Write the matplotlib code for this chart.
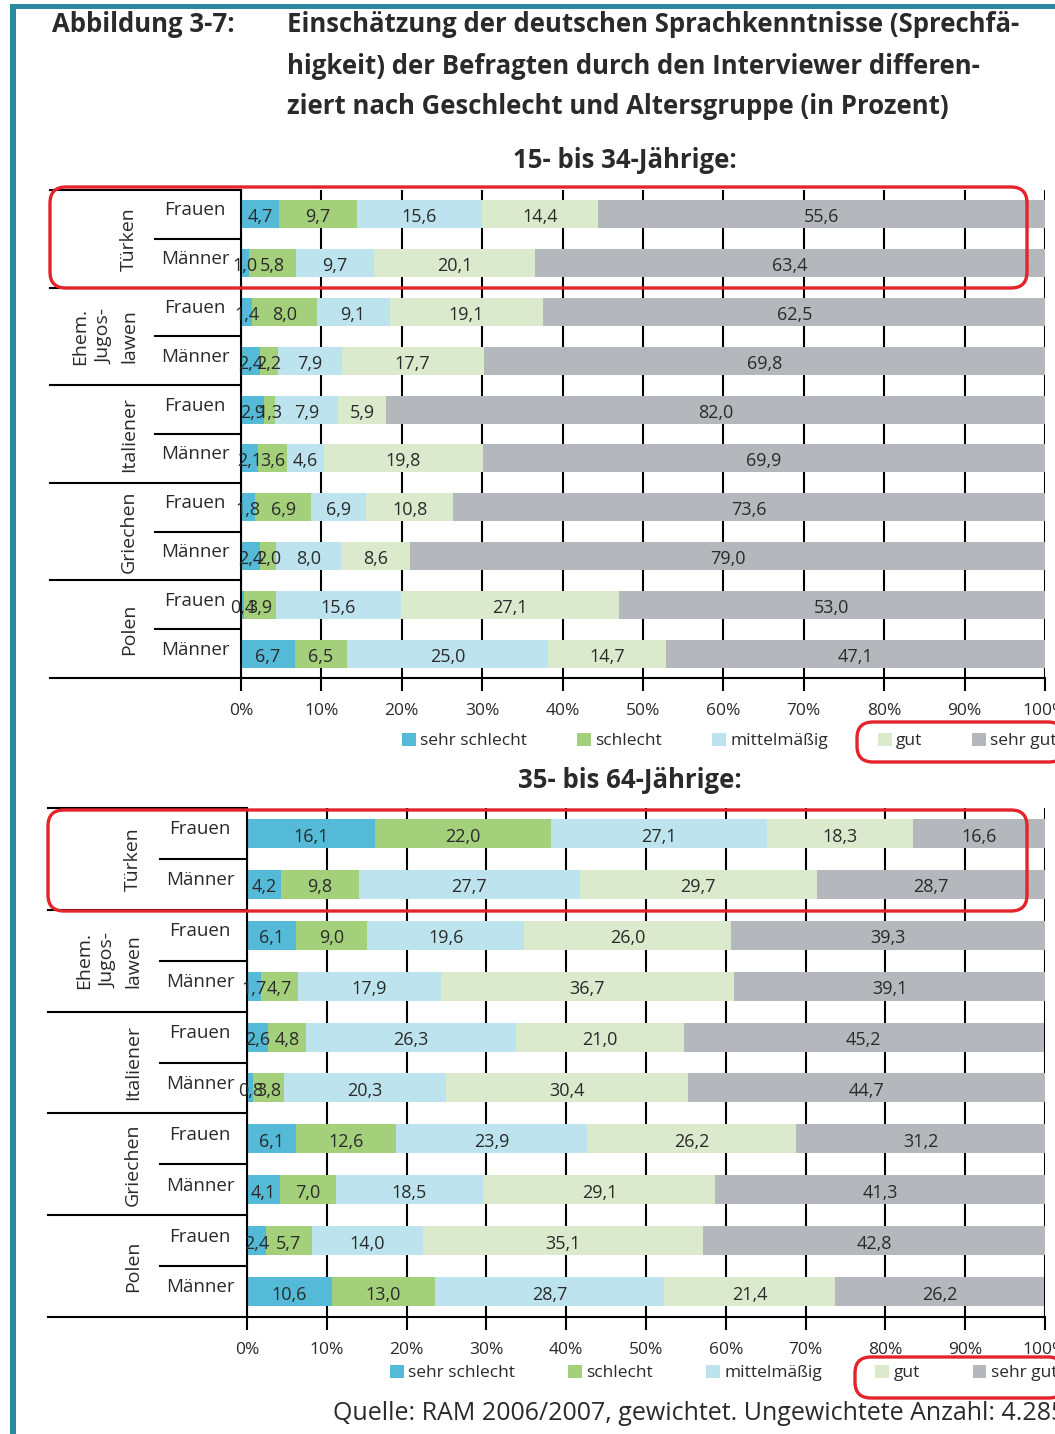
import numpy as np
import matplotlib.pyplot as plt
from matplotlib.patches import FancyBboxPatch, Rectangle
from matplotlib.transforms import IdentityTransform, blended_transform_factory

W, H = 1055, 1434

categories = ['sehr schlecht', 'schlecht', 'mittelmäßig', 'gut', 'sehr gut']
colors = ['#54bad8', '#a4d07c', '#bde4ee', '#dbeacc', '#b4b7bb']
groups = ['Türken', 'Ehem.\nJugos-\nlawen', 'Italiener', 'Griechen', 'Polen']
sexes = ['Frauen', 'Männer']

# 15- bis 34-Jährige (rows: Türken F/M, Jugoslawen F/M, Italiener F/M, Griechen F/M, Polen F/M)
young_sehr_schlecht = [4.7, 1.0, 1.4, 2.4, 2.9, 2.1, 1.8, 2.4, 0.4, 6.7]
young_schlecht = [9.7, 5.8, 8.0, 2.2, 1.3, 3.6, 6.9, 2.0, 3.9, 6.5]
young_mittel = [15.6, 9.7, 9.1, 7.9, 7.9, 4.6, 6.9, 8.0, 15.6, 25.0]
young_gut = [14.4, 20.1, 19.1, 17.7, 5.9, 19.8, 10.8, 8.6, 27.1, 14.7]
young_sehr_gut = [55.6, 63.4, 62.5, 69.8, 82.0, 69.9, 73.6, 79.0, 53.0, 47.1]

# 35- bis 64-Jährige
old_sehr_schlecht = [16.1, 4.2, 6.1, 1.7, 2.6, 0.8, 6.1, 4.1, 2.4, 10.6]
old_schlecht = [22.0, 9.8, 9.0, 4.7, 4.8, 3.8, 12.6, 7.0, 5.7, 13.0]
old_mittel = [27.1, 27.7, 19.6, 17.9, 26.3, 20.3, 23.9, 18.5, 14.0, 28.7]
old_gut = [18.3, 29.7, 26.0, 36.7, 21.0, 30.4, 26.2, 29.1, 35.1, 21.4]
old_sehr_gut = [16.6, 28.7, 39.3, 39.1, 45.2, 44.7, 31.2, 41.3, 42.8, 26.2]

plt.rcParams['font.family'] = ['Open Sans', 'DejaVu Sans']
TXT = '#2a2a2a'

fig = plt.figure(figsize=(W / 100, H / 100), dpi=100)
fig.patch.set_facecolor('white')


def px_axes(left, top, right, bottom):
    return fig.add_axes([left / W, 1 - bottom / H, (right - left) / W, (bottom - top) / H])


def draw_panel(ax, series, x_lab_left, x_sub, x_group, legend_x, legend_y, colspace):
    n = len(series[0])
    y = np.arange(n)
    left = np.zeros(n)
    handles = []
    for vals, col, name in zip(series, colors, categories):
        vals = np.array(vals)
        bars = ax.barh(y, vals, left=left, height=0.57, color=col, label=name, zorder=2)
        handles.append(bars)
        for yi, l, v in zip(y, left, vals):
            ax.text(l + v / 2, yi + 0.06, '{:.1f}'.format(v).replace('.', ','),
                    ha='center', va='center', fontsize=13, color=TXT, zorder=4)
        left += vals

    ax.set_xlim(0, 100)
    ax.set_ylim(n - 0.5, -0.5)
    ax.set_yticks([])
    ax.set_xticks(np.arange(0, 101, 10))
    ax.set_xticklabels(['{}%'.format(t) for t in range(0, 101, 10)], fontsize=12.5, color=TXT)
    ax.tick_params(axis='x', length=9, width=1.5, direction='out', pad=9)
    ax.grid(axis='x', color='black', lw=1.5)
    ax.set_axisbelow(True)
    for s in ['top', 'right']:
        ax.spines[s].set_visible(False)
    for s in ['left', 'bottom']:
        ax.spines[s].set_linewidth(1.5)
        ax.spines[s].set_color('black')

    # lines and labels in the category area
    tr = blended_transform_factory(ax.transAxes, ax.transData)
    for yl in [-0.5, 1.5, 3.5, 5.5, 7.5, 9.5]:
        ax.plot([x_lab_left, 0], [yl, yl], color='black', lw=1.5, transform=tr, clip_on=False)
    for yl in [0.5, 2.5, 4.5, 6.5, 8.5]:
        ax.plot([x_sub - 0.05, 0], [yl, yl], color='black', lw=1.5, transform=tr, clip_on=False)
    for i in range(n):
        ax.text(x_sub, i - 0.08, sexes[i % 2], ha='center', va='center', fontsize=13.5,
                color=TXT, transform=tr)
    for g, name in enumerate(groups):
        ax.text(x_group, 2 * g + 0.5, name, rotation=90, ha='right', va='center',
                multialignment='center', fontsize=14, color=TXT, transform=tr,
                linespacing=1.45)

    ax.legend(handles=handles, ncol=5, loc='center left',
              bbox_to_anchor=(legend_x / W, 1 - legend_y / H), bbox_transform=fig.transFigure,
              frameon=False, fontsize=12.5, handlelength=0.8, handleheight=0.8,
              handletextpad=0.25, columnspacing=colspace, borderpad=0, borderaxespad=0,
              labelcolor=TXT)


ax1 = px_axes(241, 190, 1045, 678)
draw_panel(ax1, [young_sehr_schlecht, young_schlecht, young_mittel, young_gut, young_sehr_gut],
           (50 - 241) / 804, (195 - 241) / 804, (138 - 241) / 804, 402, 741, 2.87)

ax2 = px_axes(247, 808, 1045, 1317)
draw_panel(ax2, [old_sehr_schlecht, old_schlecht, old_mittel, old_gut, old_sehr_gut],
           (48 - 247) / 798, (200 - 247) / 798, (142 - 247) / 798, 390, 1373, 3.05)

# titles
fig.text(52 / W, 1 - 25 / H, 'Abbildung 3-7:', fontsize=18.5, fontweight='bold', color=TXT, va='center')
title_lines = ['Einschätzung der deutschen Sprachkenntnisse (Sprechfä-',
               'higkeit) der Befragten durch den Interviewer differen-',
               'ziert nach Geschlecht und Altersgruppe (in Prozent)']
for i, line in enumerate(title_lines):
    fig.text(287 / W, 1 - (25 + 41 * i) / H, line, fontsize=18.5, fontweight='bold',
             color=TXT, va='center')
fig.text(625 / W, 1 - 160 / H, '15- bis 34-Jährige:', fontsize=18.5, fontweight='bold',
         color=TXT, ha='center', va='center')
fig.text(630 / W, 1 - 780 / H, '35- bis 64-Jährige:', fontsize=18.5, fontweight='bold',
         color=TXT, ha='center', va='center')
fig.text(333 / W, 1 - 1413 / H, 'Quelle: RAM 2006/2007, gewichtet. Ungewichtete Anzahl: 4.285',
         fontsize=18, color=TXT, va='center')

# teal page border
fig.add_artist(Rectangle((10 / W, 0), 6 / W, (H - 4) / H, transform=fig.transFigure,
                         color='#2b8a9e', lw=0))
fig.add_artist(Rectangle((10 / W, 1 - 9 / H), (W - 10) / W, 5 / H, transform=fig.transFigure,
                         color='#2b8a9e', lw=0))

# red highlight boxes (pixel coordinates)
for x0, y0, x1, y1 in [(50, 187, 1027, 288), (857, 722, 1065, 762),
                       (48, 810, 1027, 911), (855, 1357, 1065, 1398)]:
    fig.add_artist(FancyBboxPatch((x0, H - y1), x1 - x0, y1 - y0,
                                  boxstyle='round,pad=0,rounding_size=16',
                                  ec='#e4232b', fc='none', lw=2.4,
                                  transform=IdentityTransform(), zorder=10))

fig.savefig('out.png', dpi=100)
